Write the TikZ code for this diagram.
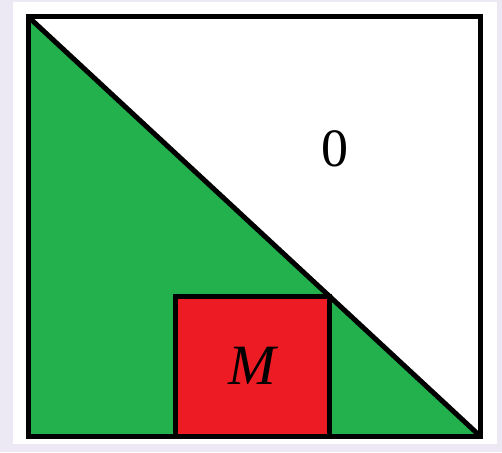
\documentclass[tikz,border=0pt]{standalone}
\usepackage{fontspec}
\setmainfont{Liberation Serif}
\definecolor{bglav}{HTML}{ECE8F4}
\definecolor{pgreen}{HTML}{22B14C}
\definecolor{pred}{HTML}{ED1C24}
\begin{document}
\begin{tikzpicture}[x=1pt,y=-1pt,
  edge/.style={draw=black,line width=5pt,line join=miter},
  lbl/.style={font=\fontsize{54}{60}\selectfont,inner sep=0pt}]
\fill[bglav] (0,0) rectangle (502,452);
\useasboundingbox (0,0) rectangle (502,452);
\fill[white] (13,2) rectangle (497,444);
\coordinate (tl) at (28.5,17);
\coordinate (bl) at (28.5,436);
\coordinate (br) at (480,436);
\coordinate (tr) at (480,17);
\fill[pgreen] (tl) -- (bl) -- (br) -- cycle;
\draw[edge] (tl) -- (br);
\draw[edge,fill=pred] (175.5,436) rectangle (329.5,296.5);
\draw[edge] (tl) rectangle (br);
\node[lbl] (zero) at (335,149) {0};
\node[lbl,font=\fontsize{57}{60}\selectfont\itshape] (m) at (252,366) {M};
\end{tikzpicture}
\end{document}
